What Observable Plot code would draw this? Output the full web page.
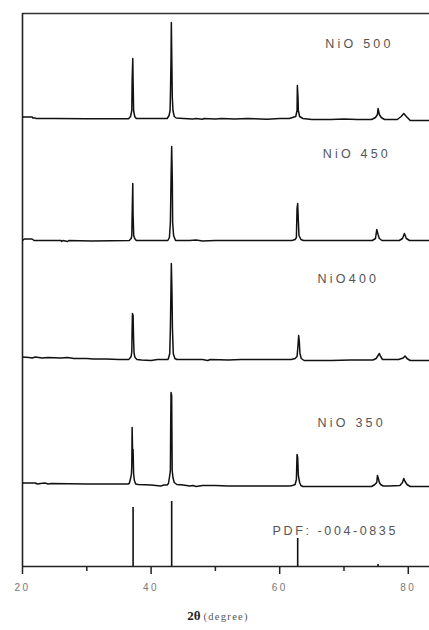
<!DOCTYPE html>
<html>
<head>
<meta charset="utf-8">
<script src="https://cdn.jsdelivr.net/npm/d3@7"></script>
<script src="https://cdn.jsdelivr.net/npm/@observablehq/plot@0.6"></script>
<style>
  html, body { margin: 0; padding: 0; background: #fff; }
</style>
</head>
<body>
<div id="chart"></div>
<script>
// ---- data (2θ in degrees, intensity in arbitrary units) ----
const seriesNames = ["NiO 500", "NiO 450", "NiO400", "NiO 350"];
const stackOffset = [448, 326, 207, 81];

const nio500 = [[20,1.5],[21.5,1.5],[21.6,0.5],[22.0,0.5],[22.1,0],[25,0],[30,-0.2],[36.5,-0.2],
  [36.8,2],[37.0,8],[37.05,38],[37.15,60],[37.2,38],[37.28,8],[37.45,2],[37.7,0],
  [42.5,0],[42.8,3],[42.95,8],[43.0,21],[43.1,60],[43.15,96],[43.22,60],[43.3,21],[43.4,8],[43.6,2],[43.9,0.5],
  [45,0],[46.5,-0.5],[47,0],[48,-0.8],[48.2,0],[50,-0.5],[51,0],[53,-0.6],[55,0],[58,-0.8],[60,0],
  [61.5,0],[62.0,1],[62.5,2],[62.7,8],[62.75,33],[62.85,21],[62.9,8],[63.1,2],[63.6,0],
  [65,-1],[68,-1],[70,-0.5],[72,-1],[74.3,-1],[74.9,1],[75.2,4],[75.3,10],[75.5,4],[75.8,1],[76.3,-1],
  [78.3,-1],[78.9,2],[79.3,5],[79.7,2],[80.3,-2],[83.5,-2]];

const nio450 = [[20,0],[20.3,1.5],[21.5,1.5],[21.8,0],[26,0],[26.1,-1],[26.3,0],[27,-1],[27.2,0],[30.8,-0.5],[36.6,0],
  [36.9,2],[37.0,5],[37.05,25],[37.15,57],[37.2,25],[37.3,5],[37.45,2],[37.7,0],
  [42.6,0],[42.85,3],[43.0,18],[43.1,60],[43.2,94],[43.3,60],[43.35,18],[43.5,5],[43.8,0],
  [46,0],[47,0.5],[48,-0.5],[50,0],[55,0],[60,0],
  [61.9,0],[62.4,1],[62.6,3],[62.7,32],[62.8,37],[62.9,20],[63.0,5],[63.3,1],[63.7,0],
  [68,0],[74.4,0],[74.9,2],[75.1,11],[75.3,6],[75.5,2],[75.9,0],
  [78.6,0],[79.1,2],[79.4,7],[79.7,2],[80.2,0],[83.5,0]];

const nio400 = [[20,2.5],[21,2],[21.5,1.5],[22,2.5],[23,1.5],[24,2],[26,1.5],[27,2],[28,1],[30,1],[31,0.5],[33,0.5],[35,0],[36.5,0],
  [36.6,0.5],[36.9,3],[37.0,8],[37.05,30],[37.1,46],[37.2,44],[37.28,20],[37.35,6],[37.5,2],[37.8,0],
  [38.5,-0.5],[40,-1],[41,0],[42.6,0],
  [42.7,1],[42.9,6],[43.0,31],[43.08,66],[43.15,96],[43.25,66],[43.32,31],[43.45,6],[43.7,1],[44,0],
  [48,0],[48.8,-1],[49.2,0],[52,-0.5],[54,0],[58,0],
  [61.8,0],[62.4,1],[62.7,3],[62.85,14],[62.95,24],[63.05,18],[63.15,6],[63.35,1],[63.8,-1],
  [64.5,-1],[68,-1],[71,-0.5],[74.5,-0.5],
  [75.0,1],[75.3,4],[75.5,6],[75.7,3],[76.0,0],
  [78.5,0],[79.2,1.5],[79.5,3.5],[79.8,1],[80.3,-1],[83.5,-1]];

const nio350 = [[20,2.5],[22,2.5],[22.3,1.5],[22.8,2],[23.5,2.5],[24,1.5],[24.5,2],[30,1.5],[36.4,1.5],
  [36.6,2],[36.85,8],[36.95,12],[37.0,20],[37.05,58],[37.12,36],[37.2,36],[37.28,12],[37.4,5],[37.6,1.5],[38,1],
  [40,0.5],[41.5,-0.5],[42,0.5],[42.5,0.5],
  [42.7,2],[42.9,10],[43.0,15],[43.05,60],[43.1,93],[43.2,90],[43.28,15],[43.4,8],[43.6,3],[44,1],
  [45,0.5],[46,-0.5],[46.5,0],[47,-1],[48,0],[50,0],[52,-0.5],[55,-0.5],[60,-0.5],[61.5,-0.5],
  [62.0,0],[62.4,1],[62.6,6],[62.7,31],[62.8,28],[62.9,10],[63.1,3],[63.3,0],[63.6,-1],
  [70,-1],[74.3,-1],
  [74.8,1],[75.1,3],[75.2,10],[75.35,7],[75.5,3],[75.7,1],[76.1,-0.5],[77,-0.5],
  [78.7,0],[79.1,3],[79.3,7],[79.5,4],[79.8,1],[80.3,-1],[83.5,-1]];

const patterns = [nio500, nio450, nio400, nio350];

// reference card PDF 004-0835
const pdfLabel = "PDF: -004-0835";
const pdfPos = [37.2, 43.2, 62.8, 75.3];
const pdfInt = [59, 65, 28, 2];

// label anchor (2θ, intensity)
const labelX = [67.1, 66.7, 65.9, 65.9, 58.9];
const labelY = [523, 413, 288, 144, 36];
const labelText = [...seriesNames, pdfLabel];

const xTicks = [20, 40, 60, 80];
const xMinorTicks = [30, 50, 70];
const xDomain = [20, 83.3];
const yDomain = [0, 553];

// ---- build tables ----
const lineData = patterns.flatMap((pts, i) =>
  pts.map(([x, v]) => ({x, y: v + stackOffset[i], s: seriesNames[i]})));
const pdfData = pdfPos.map((x, i) => ({x, y: pdfInt[i]}));
const labels = labelText.map((t, i) => ({x: labelX[i], y: labelY[i], t}));

const chart = Plot.plot({
  width: 429,
  height: 630,
  marginLeft: 22,
  marginRight: 0,
  marginTop: 13,
  marginBottom: 64,
  x: {domain: xDomain},
  y: {domain: yDomain, axis: null},
  style: {fontFamily: "'Liberation Sans', Arial, sans-serif", background: "white", overflow: "visible"},
  marks: [
    Plot.axisX({ticks: xMinorTicks, tickSize: 5, tickFormat: () => "", label: null, stroke: "#222", strokeWidth: 1.5}),
    Plot.axisX({ticks: xTicks, tickSize: 8, tickPadding: 9, label: null, fontSize: 10, stroke: "#222", strokeWidth: 1.5}),
    Plot.ruleY([yDomain[0]], {stroke: "#222", strokeWidth: 1.6}),
    Plot.ruleY([yDomain[1]], {stroke: "#333", strokeWidth: 1.6}),
    Plot.ruleX([xDomain[0]], {stroke: "#222", strokeWidth: 1.6}),
    Plot.ruleX(pdfData, {x: "x", y1: 0, y2: "y", stroke: "#111", strokeWidth: 1.6}),
    Plot.line(lineData, {x: "x", y: "y", z: "s", stroke: "#111", strokeWidth: 1.5, clip: true}),
    Plot.text(labels, {x: "x", y: "y", text: "t", textAnchor: "start", fontSize: 12.5, fill: "#555"}),
    Plot.text(["2θ"], {x: [47.68], frameAnchor: "bottom", dy: 53, textAnchor: "end", text: d => d,
      fontFamily: "'Liberation Serif', 'DejaVu Serif', serif", fontWeight: "bold", fontSize: 13, fill: "#222"}),
    Plot.text(["(degree)"], {x: [48.15], frameAnchor: "bottom", dy: 53, textAnchor: "start", text: d => d,
      fontFamily: "'Liberation Serif', 'DejaVu Serif', serif", fontSize: 10.5, fill: "#555"})
  ]
});

const sel = d3.select(chart);
sel.selectAll("text").each(function () {
  const t = this.textContent;
  if (labelText.includes(t)) {
    d3.select(this).attr("letter-spacing", t === pdfLabel ? 2.6 : 3.2);
  } else if (t === "(degree)") {
    d3.select(this).attr("letter-spacing", 1.3);
  } else if (/^\d+$/.test(t)) {
    d3.select(this).attr("letter-spacing", 2.5).attr("fill", "#777");
  }
});

document.getElementById("chart").appendChild(chart);
</script>
</body>
</html>
